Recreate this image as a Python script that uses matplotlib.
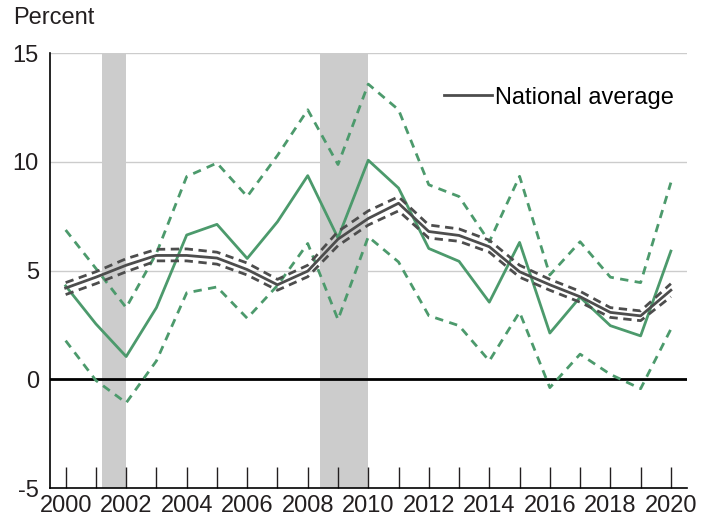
import matplotlib
matplotlib.use("Agg")
import matplotlib.pyplot as plt

plt.rcParams['font.family'] = ['Liberation Sans', 'DejaVu Sans']

years = list(range(2000, 2021))

national_avg = [4.2, 4.7, 5.25, 5.7, 5.7, 5.58, 5.05, 4.35, 4.98, 6.45, 7.4,
                8.1, 6.8, 6.62, 6.1, 4.95, 4.35, 3.8, 3.08, 2.92, 4.1]
national_upper = [4.45, 4.95, 5.55, 5.98, 6.0, 5.85, 5.35, 4.6, 5.25, 6.8, 7.75,
                  8.4, 7.1, 6.92, 6.4, 5.25, 4.6, 4.05, 3.3, 3.15, 4.4]
national_lower = [3.9, 4.4, 4.95, 5.45, 5.45, 5.3, 4.8, 4.1, 4.72, 6.15, 7.1,
                  7.75, 6.5, 6.35, 5.85, 4.7, 4.1, 3.55, 2.85, 2.7, 3.8]

state = [4.3, 2.55, 1.05, 3.3, 6.64, 7.13, 5.56, 7.25, 9.37, 6.5, 10.08,
         8.8, 6.02, 5.43, 3.55, 6.3, 2.13, 3.78, 2.47, 2.0, 5.9]
state_upper = [6.87, 5.1, 3.3, 5.8, 9.33, 9.95, 8.41, 10.3, 12.4, 9.88, 13.58,
               12.4, 8.95, 8.41, 6.33, 9.34, 4.8, 6.33, 4.7, 4.45, 9.05]
state_lower = [1.78, -0.05, -1.08, 0.85, 3.98, 4.25, 2.81, 4.32, 6.25, 2.75, 6.56,
               5.4, 2.93, 2.47, 0.85, 3.09, -0.38, 1.16, 0.23, -0.43, 2.31]

recessions = [(2001.2, 2002.0), (2008.4, 2010.0)]

y_ticks = [-5, 0, 5, 10, 15]
x_label_ticks = list(range(2000, 2021, 2))

green = '#4c9a6c'
gray = '#4d4d4d'
fs = 17

fig = plt.figure(figsize=(7.13, 5.22), dpi=100)
ax = fig.add_axes([0.070, 0.065, 0.893, 0.833])

for s, e in recessions:
    ax.axvspan(s, e, color='#cccccc', lw=0, zorder=0)

for yv in y_ticks[1:]:
    ax.axhline(yv, color='#cccccc', lw=1.0, zorder=0.5)
ax.axhline(0, color='black', lw=2.0, zorder=1)

ax.plot(years, state_upper, color=green, lw=2.0, ls=(0, (3, 2.3)), zorder=2)
ax.plot(years, state_lower, color=green, lw=2.0, ls=(0, (3, 2.3)), zorder=2)
ax.plot(years, state, color=green, lw=2.0, zorder=3)
ax.plot(years, national_upper, color=gray, lw=2.0, ls=(0, (3, 2)), zorder=4)
ax.plot(years, national_lower, color=gray, lw=2.0, ls=(0, (3, 2)), zorder=4)
ax.plot(years, national_avg, color=gray, lw=2.0, zorder=5, label='National average')

ax.set_xlim(1999.48, 2020.52)
ax.set_ylim(-5, 15)
ax.set_yticks(y_ticks)
ax.set_yticklabels([str(v) for v in y_ticks], fontsize=fs, color='#231f20')
ax.set_xticks(years)
ax.set_xticklabels([str(y) if y in x_label_ticks else '' for y in years],
                   fontsize=fs, color='#231f20')
ax.tick_params(axis='x', direction='in', length=15, width=1.0, pad=5, color='#231f20')
ax.tick_params(axis='y', length=0, pad=8)

for side in ['top', 'right']:
    ax.spines[side].set_visible(False)
ax.spines['left'].set_linewidth(1.2)
ax.spines['bottom'].set_linewidth(1.2)

leg = ax.legend(loc='upper right', bbox_to_anchor=(0.995, 0.945), frameon=False,
                fontsize=fs, handlelength=2.0, handletextpad=0.15,
                borderaxespad=0)

fig.text(0.018, 0.966, 'Percent', fontsize=fs, color='#231f20', va='center', ha='left')

fig.savefig('out.png', dpi=100)
